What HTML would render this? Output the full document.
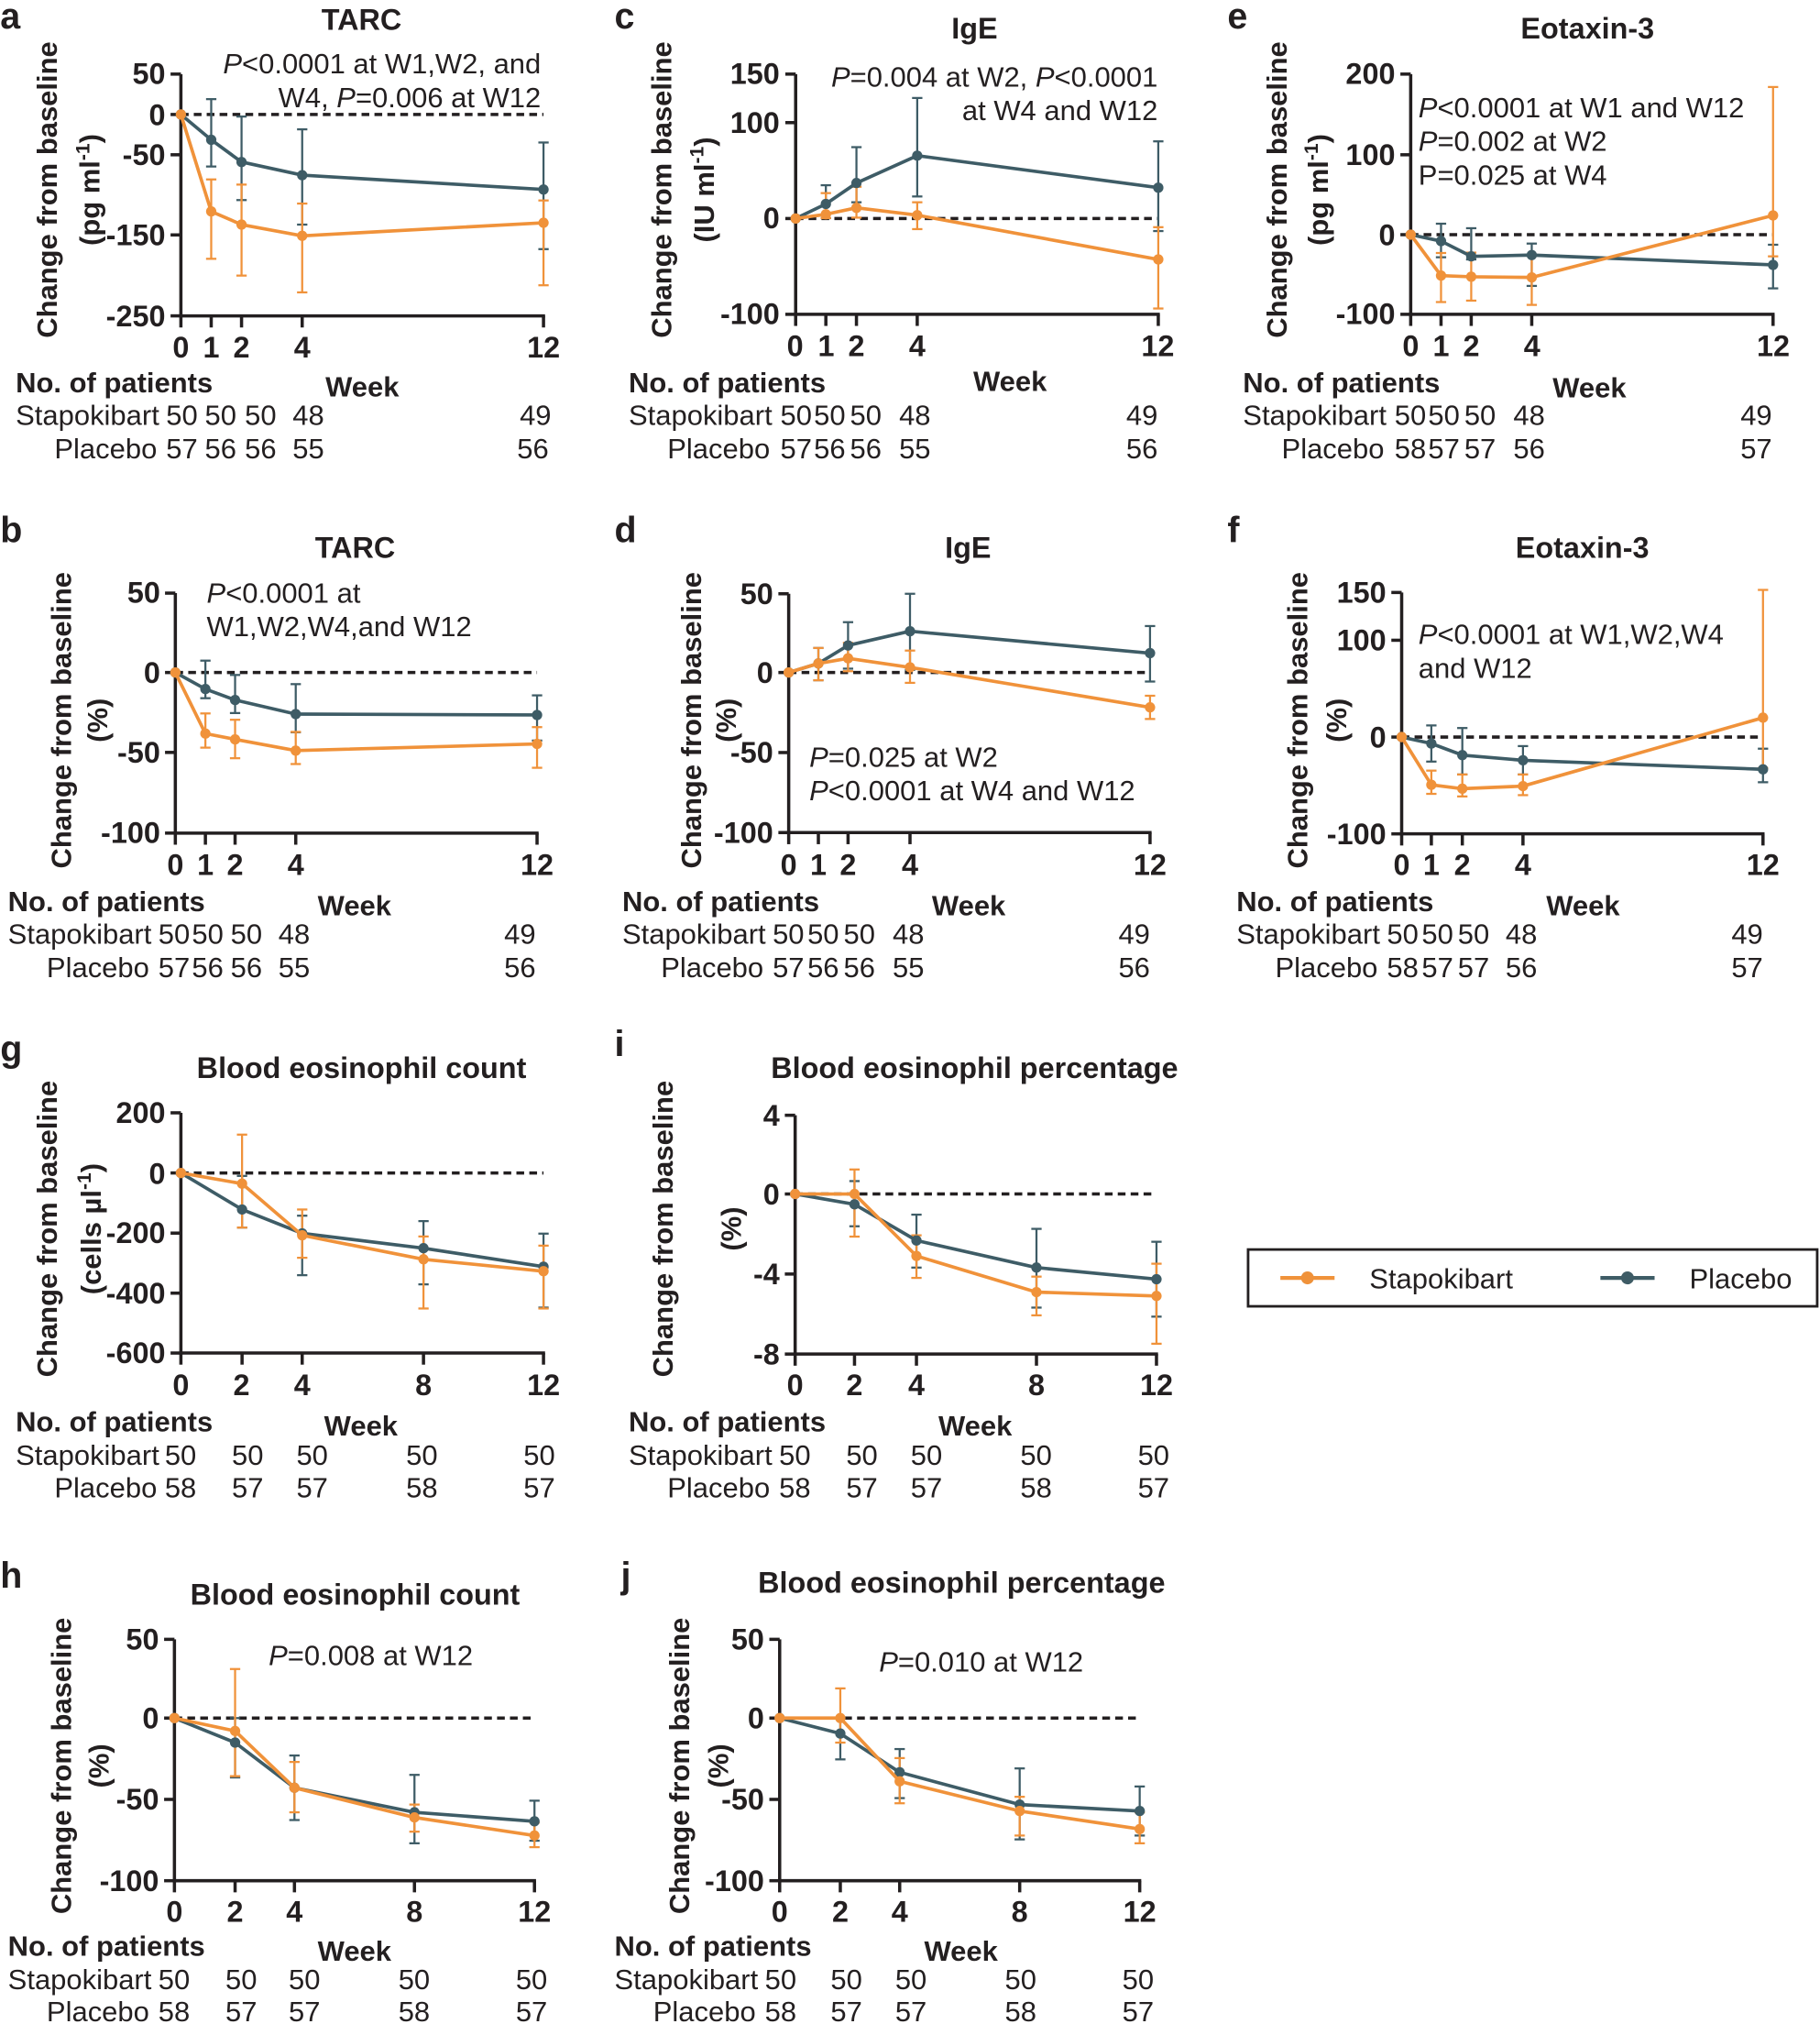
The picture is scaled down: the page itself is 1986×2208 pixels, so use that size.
<!DOCTYPE html>
<html><head><meta charset="utf-8">
<style>
html,body{margin:0;padding:0;background:#fff}
svg{display:block}
text{font-family:"Liberation Sans Narrow","Liberation Sans",Arial,sans-serif;fill:#231f20}
.b{font-weight:bold}
.t{font-size:23px;font-weight:bold}
.yl{font-size:22px;font-weight:bold}
.n{font-size:22px}
.L{font-size:28px;font-weight:bold}
.tk{font-size:23px;font-weight:bold}
.e{text-anchor:end}.m{text-anchor:middle}
</style></head>
<body>
<svg id="s" width="1986" height="2208" viewBox="0 0 1410 1568" xmlns="http://www.w3.org/2000/svg">
<g id="geo"></g>
<!-- panel letters -->
<text class="L" x="0" y="22">a</text><text class="L" x="476" y="22">c</text><text class="L" x="951" y="22">e</text>
<text class="L" x="0" y="420">b</text><text class="L" x="476" y="420">d</text><text class="L" x="951" y="420">f</text>
<text class="L" x="0" y="822">g</text><text class="L" x="476" y="818">i</text>
<text class="L" x="0" y="1230">h</text><text class="L" x="481" y="1230">j</text>
<!-- titles -->
<text class="t m" x="280" y="23">TARC</text><text class="t m" x="755" y="30">IgE</text><text class="t m" x="1230" y="30">Eotaxin-3</text>
<text class="t m" x="275" y="432">TARC</text><text class="t m" x="750" y="432">IgE</text><text class="t m" x="1226" y="432">Eotaxin-3</text>
<text class="t m" x="280" y="835">Blood eosinophil count</text><text class="t m" x="755" y="835">Blood eosinophil percentage</text>
<text class="t m" x="275" y="1243">Blood eosinophil count</text><text class="t m" x="745" y="1234">Blood eosinophil percentage</text>
<!-- y labels -->
<g class="yl m">
<text transform="translate(44,147) rotate(-90)">Change from baseline</text><text transform="translate(77,147) rotate(-90)">(pg ml<tspan dy="-8" font-size="15">-1</tspan><tspan dy="8">)</tspan></text>
<text transform="translate(520,147) rotate(-90)">Change from baseline</text><text transform="translate(553,147) rotate(-90)">(IU ml<tspan dy="-8" font-size="15">-1</tspan><tspan dy="8">)</tspan></text>
<text transform="translate(997,147) rotate(-90)">Change from baseline</text><text transform="translate(1029,147) rotate(-90)">(pg ml<tspan dy="-8" font-size="15">-1</tspan><tspan dy="8">)</tspan></text>
<text transform="translate(55,558) rotate(-90)">Change from baseline</text><text transform="translate(83,558) rotate(-90)">(%)</text>
<text transform="translate(543,558) rotate(-90)">Change from baseline</text><text transform="translate(570,558) rotate(-90)">(%)</text>
<text transform="translate(1013,558) rotate(-90)">Change from baseline</text><text transform="translate(1043,558) rotate(-90)">(%)</text>
<text transform="translate(44,952) rotate(-90)">Change from baseline</text><text transform="translate(78,952) rotate(-90)">(cells µl<tspan dy="-8" font-size="15">-1</tspan><tspan dy="8">)</tspan></text>
<text transform="translate(521,952) rotate(-90)">Change from baseline</text><text transform="translate(574,952) rotate(-90)">(%)</text>
<text transform="translate(55,1368) rotate(-90)">Change from baseline</text><text transform="translate(84,1368) rotate(-90)">(%)</text>
<text transform="translate(534,1368) rotate(-90)">Change from baseline</text><text transform="translate(564,1368) rotate(-90)">(%)</text>
</g>
<!-- y tick labels -->
<g class="tk e">
<text x="128" y="65">50</text><text x="128" y="97">0</text><text x="128" y="128">-50</text><text x="128" y="190">-150</text><text x="128" y="253">-250</text>
<text x="604" y="65">150</text><text x="604" y="103">100</text><text x="604" y="177">0</text><text x="604" y="251">-100</text>
<text x="1081" y="65">200</text><text x="1081" y="128">100</text><text x="1081" y="190">0</text><text x="1081" y="251">-100</text>
<text x="124" y="467">50</text><text x="124" y="529">0</text><text x="124" y="591">-50</text><text x="124" y="653">-100</text>
<text x="599" y="468">50</text><text x="599" y="529">0</text><text x="599" y="591">-50</text><text x="599" y="653">-100</text>
<text x="1074" y="467">150</text><text x="1074" y="504">100</text><text x="1074" y="579">0</text><text x="1074" y="654">-100</text>
<text x="128" y="870">200</text><text x="128" y="917">0</text><text x="128" y="963">-200</text><text x="128" y="1010">-400</text><text x="128" y="1056">-600</text>
<text x="604" y="872">4</text><text x="604" y="933">0</text><text x="604" y="995">-4</text><text x="604" y="1057">-8</text>
<text x="123" y="1278">50</text><text x="123" y="1339">0</text><text x="123" y="1402">-50</text><text x="123" y="1465">-100</text>
<text x="592" y="1278">50</text><text x="592" y="1339">0</text><text x="592" y="1402">-50</text><text x="592" y="1465">-100</text>
</g>
<!-- x tick labels -->
<g class="tk m">
<text x="140" y="277">0</text><text x="163.5" y="277">1</text><text x="187" y="277">2</text><text x="234" y="277">4</text><text x="421" y="277">12</text>
<text x="616" y="276">0</text><text x="640" y="276">1</text><text x="663.5" y="276">2</text><text x="710.6" y="276">4</text><text x="897" y="276">12</text>
<text x="1093" y="276">0</text><text x="1116.5" y="276">1</text><text x="1140" y="276">2</text><text x="1187" y="276">4</text><text x="1374" y="276">12</text>
<text x="135.7" y="678">0</text><text x="159" y="678">1</text><text x="182" y="678">2</text><text x="229" y="678">4</text><text x="416" y="678">12</text>
<text x="611" y="678">0</text><text x="634" y="678">1</text><text x="657" y="678">2</text><text x="705" y="678">4</text><text x="891" y="678">12</text>
<text x="1086" y="678">0</text><text x="1109" y="678">1</text><text x="1133" y="678">2</text><text x="1180" y="678">4</text><text x="1366" y="678">12</text>
<text x="140" y="1081">0</text><text x="187" y="1081">2</text><text x="234" y="1081">4</text><text x="328" y="1081">8</text><text x="421" y="1081">12</text>
<text x="616" y="1081">0</text><text x="662" y="1081">2</text><text x="710" y="1081">4</text><text x="803" y="1081">8</text><text x="896" y="1081">12</text>
<text x="135" y="1489">0</text><text x="182" y="1489">2</text><text x="228" y="1489">4</text><text x="321" y="1489">8</text><text x="414" y="1489">12</text>
<text x="604" y="1489">0</text><text x="651" y="1489">2</text><text x="697" y="1489">4</text><text x="790" y="1489">8</text><text x="883" y="1489">12</text>
</g>
<!-- annotations -->
<g class="n">
<text x="419" y="57" class="e"><tspan font-style="italic">P</tspan>&lt;0.0001 at W1,W2, and</text>
<text x="419" y="83" class="e">W4, <tspan font-style="italic">P</tspan>=0.006 at W12</text>
<text x="897" y="67" class="e"><tspan font-style="italic">P</tspan>=0.004 at W2, <tspan font-style="italic">P</tspan>&lt;0.0001</text>
<text x="897" y="93" class="e">at W4 and W12</text>
<text x="1099" y="91"><tspan font-style="italic">P</tspan>&lt;0.0001 at W1 and W12</text>
<text x="1099" y="117"><tspan font-style="italic">P</tspan>=0.002 at W2</text>
<text x="1099" y="143">P=0.025 at W4</text>
<text x="160" y="467"><tspan font-style="italic">P</tspan>&lt;0.0001 at</text>
<text x="160" y="493">W1,W2,W4,and W12</text>
<text x="627" y="594"><tspan font-style="italic">P</tspan>=0.025 at W2</text>
<text x="627" y="620"><tspan font-style="italic">P</tspan>&lt;0.0001 at W4 and W12</text>
<text x="1099" y="499"><tspan font-style="italic">P</tspan>&lt;0.0001 at W1,W2,W4</text>
<text x="1099" y="525">and W12</text>
<text x="208" y="1290"><tspan font-style="italic">P</tspan>=0.008 at W12</text>
<text x="681" y="1295"><tspan font-style="italic">P</tspan>=0.010 at W12</text>
</g>
<!-- patient tables -->
<g class="n">
<text class="b" x="12" y="304">No. of patients</text><text class="b" x="252" y="307">Week</text>
<text x="12" y="329">Stapokibart</text><text x="42" y="355">Placebo</text>
<g class="e"><text x="153" y="329">50</text><text x="183" y="329">50</text><text x="214" y="329">50</text><text x="251" y="329">48</text><text x="427" y="329">49</text>
<text x="153" y="355">57</text><text x="183" y="355">56</text><text x="214" y="355">56</text><text x="251" y="355">55</text><text x="425" y="355">56</text></g>

<text class="b" x="487" y="304">No. of patients</text><text class="b" x="754" y="303">Week</text>
<text x="487" y="329">Stapokibart</text><text x="517" y="355">Placebo</text>
<g class="e"><text x="629" y="329">50</text><text x="655" y="329">50</text><text x="683" y="329">50</text><text x="721" y="329">48</text><text x="897" y="329">49</text>
<text x="629" y="355">57</text><text x="655" y="355">56</text><text x="683" y="355">56</text><text x="721" y="355">55</text><text x="897" y="355">56</text></g>

<text class="b" x="963" y="304">No. of patients</text><text class="b" x="1203" y="308">Week</text>
<text x="963" y="329">Stapokibart</text><text x="993" y="355">Placebo</text>
<g class="e"><text x="1105" y="329">50</text><text x="1131" y="329">50</text><text x="1159" y="329">50</text><text x="1197" y="329">48</text><text x="1373" y="329">49</text>
<text x="1105" y="355">58</text><text x="1131" y="355">57</text><text x="1159" y="355">57</text><text x="1197" y="355">56</text><text x="1373" y="355">57</text></g>

<text class="b" x="6" y="706">No. of patients</text><text class="b" x="246" y="709">Week</text>
<text x="6" y="731">Stapokibart</text><text x="36" y="757">Placebo</text>
<g class="e"><text x="147" y="731">50</text><text x="173" y="731">50</text><text x="203" y="731">50</text><text x="240" y="731">48</text><text x="415" y="731">49</text>
<text x="147" y="757">57</text><text x="173" y="757">56</text><text x="203" y="757">56</text><text x="240" y="757">55</text><text x="415" y="757">56</text></g>

<text class="b" x="482" y="706">No. of patients</text><text class="b" x="722" y="709">Week</text>
<text x="482" y="731">Stapokibart</text><text x="512" y="757">Placebo</text>
<g class="e"><text x="623" y="731">50</text><text x="650" y="731">50</text><text x="678" y="731">50</text><text x="716" y="731">48</text><text x="891" y="731">49</text>
<text x="623" y="757">57</text><text x="650" y="757">56</text><text x="678" y="757">56</text><text x="716" y="757">55</text><text x="891" y="757">56</text></g>

<text class="b" x="958" y="706">No. of patients</text><text class="b" x="1198" y="709">Week</text>
<text x="958" y="731">Stapokibart</text><text x="988" y="757">Placebo</text>
<g class="e"><text x="1099" y="731">50</text><text x="1126" y="731">50</text><text x="1154" y="731">50</text><text x="1191" y="731">48</text><text x="1366" y="731">49</text>
<text x="1099" y="757">58</text><text x="1126" y="757">57</text><text x="1154" y="757">57</text><text x="1191" y="757">56</text><text x="1366" y="757">57</text></g>

<text class="b" x="12" y="1109">No. of patients</text><text class="b" x="251" y="1112">Week</text>
<text x="12" y="1135">Stapokibart</text><text x="42" y="1160">Placebo</text>
<g class="e"><text x="152" y="1135">50</text><text x="204" y="1135">50</text><text x="254" y="1135">50</text><text x="339" y="1135">50</text><text x="430" y="1135">50</text>
<text x="152" y="1160">58</text><text x="204" y="1160">57</text><text x="254" y="1160">57</text><text x="339" y="1160">58</text><text x="430" y="1160">57</text></g>

<text class="b" x="487" y="1109">No. of patients</text><text class="b" x="727" y="1112">Week</text>
<text x="487" y="1135">Stapokibart</text><text x="517" y="1160">Placebo</text>
<g class="e"><text x="628" y="1135">50</text><text x="680" y="1135">50</text><text x="730" y="1135">50</text><text x="815" y="1135">50</text><text x="906" y="1135">50</text>
<text x="628" y="1160">58</text><text x="680" y="1160">57</text><text x="730" y="1160">57</text><text x="815" y="1160">58</text><text x="906" y="1160">57</text></g>

<text class="b" x="6" y="1515">No. of patients</text><text class="b" x="246" y="1519">Week</text>
<text x="6" y="1541">Stapokibart</text><text x="36" y="1566">Placebo</text>
<g class="e"><text x="147" y="1541">50</text><text x="199" y="1541">50</text><text x="248" y="1541">50</text><text x="333" y="1541">50</text><text x="424" y="1541">50</text>
<text x="147" y="1566">58</text><text x="199" y="1566">57</text><text x="248" y="1566">57</text><text x="333" y="1566">58</text><text x="424" y="1566">57</text></g>

<text class="b" x="476" y="1515">No. of patients</text><text class="b" x="716" y="1519">Week</text>
<text x="476" y="1541">Stapokibart</text><text x="506" y="1566">Placebo</text>
<g class="e"><text x="617" y="1541">50</text><text x="668" y="1541">50</text><text x="718" y="1541">50</text><text x="803" y="1541">50</text><text x="894" y="1541">50</text>
<text x="617" y="1566">58</text><text x="668" y="1566">57</text><text x="718" y="1566">57</text><text x="803" y="1566">58</text><text x="894" y="1566">57</text></g>
</g>
<!-- legend -->
<rect x="967" y="968" width="441" height="44" fill="none" stroke="#231f20" stroke-width="2"/>
<line x1="992" y1="990" x2="1034" y2="990" stroke="#F0923A" stroke-width="3"/><circle cx="1013" cy="990" r="5" fill="#F0923A"/>
<text class="n" x="1061" y="998">Stapokibart</text>
<line x1="1240" y1="990" x2="1282" y2="990" stroke="#3E5C66" stroke-width="3"/><circle cx="1261" cy="990" r="5" fill="#3E5C66"/>
<text class="n" x="1309" y="998">Placebo</text>
</svg>
<script>
var O="#F0923A",G="#3E5C66",K="#231f20";
var P=[
{xs:[140,163.5,187,234,421],yt:[57.4,88.7,119.9,182,244.7],z:88.7,
 p:[[88.7],[108.3,76.8,129],[125.5,90.3,155],[135.7,100.2,174],[146.8,110.4,193]],
 s:[[88.7],[163.8,139,200.5],[174,143,213.5],[182.7,157.7,226.5],[172.6,155.3,221]]},
{xs:[616.4,639.8,663.5,710.6,897.4],yt:[57.4,95,169.3,243.5],z:169.3,
 p:[[169.3],[158,143.5,169],[141.8,114,156.7],[120.6,75.9,152.2],[145.4,109.5,179]],
 s:[[169.3],[166,149.6,169],[161,144.7,168.6],[166.7,156.7,177.5],[201,176,239]]},
{xs:[1093,1116.5,1139.9,1186.8,1373.8],yt:[57.4,119.9,181.8,243.5],z:181.8,
 p:[[181.8],[186.8,173.3,199.3],[198.6,176.8,201],[197.6,188.7,221.5],[205.2,189.6,223.4]],
 s:[[181.8],[213.5,196,234],[214.4,195.7,232.9],[214.9,197.2,236.2],[166.9,67.4,198.6]]},
{xs:[135.7,159,182,229,416],yt:[459.5,521,582.9,645.4],z:521,
 p:[[521],[533.8,511.8,540.9],[542.3,522.9,552.4],[553.2,530,567.3],[553.9,538.7,573.7]],
 s:[[521],[568.3,552.7,579.2],[572.8,557.6,587.4],[581.5,567,591.9],[576.3,563.3,594.8]]},
{xs:[611,634,657,705,891],yt:[460,521,583,645],z:521,
 p:[[521],[514,502,527],[500,482,518],[489,460,519],[506,485,528]],
 s:[[521],[514,502,527],[510,498,520],[517,504,529],[548,539,557]]},
{xs:[1086,1109,1133,1180,1366],yt:[459,496,571,646],z:571,
 p:[[571],[576,562,590],[585,564,600],[589,578,600],[596,580,606]],
 s:[[571],[608,597,615],[611,600,617],[609,600,616],[556,457,595]]},
{xs:[140,187.4,234,328,421],yt:[862.1,908.7,955.3,1001.8,1048.2],z:908.7,
 p:[[908.7],[937,911,951],[955.5,941.8,987.9],[967,946,995],[981.3,955.7,1013]],
 s:[[908.7],[917,879,951],[957,937,974.4],[975.6,957.9,1013.7],[984.8,965,1013.7]]},
{xs:[616,662,710,803,896],yt:[864,925,987,1049],z:925,
 p:[[925],[933,915,950],[961,941,982],[982,952,1013],[991,962,1020]],
 s:[[925],[925,906,958],[973,957,990],[1001,989,1019],[1004,979,1041]]},
{xs:[135,182,228,321,414],yt:[1270,1331,1394,1457],z:1331,
 p:[[1331],[1350,1331,1377],[1385,1360,1410],[1404,1375,1428],[1411,1395,1426]],
 s:[[1331],[1341,1293,1376],[1385,1365,1404],[1408,1398,1419],[1422,1412,1431]]},
{xs:[604,651,697,790,883],yt:[1270,1331,1394,1457],z:1331,
 p:[[1331],[1343,1331,1363],[1373,1355,1393],[1398,1370,1425],[1403,1384,1422]],
 s:[[1331],[1331,1308,1350],[1380,1362,1397],[1403,1392,1422],[1417,1404,1428]]}
];
var h="";
function L(x1,y1,x2,y2,c,w,extra){h+='<line x1="'+x1+'" y1="'+y1+'" x2="'+x2+'" y2="'+y2+'" stroke="'+c+'" stroke-width="'+w+'"'+(extra||'')+'/>';}
P.forEach(function(q){
 var x0=q.xs[0],x1=q.xs[q.xs.length-1],top=q.yt[0],bot=q.yt[q.yt.length-1];
 L(x0,top,x0,bot+1.2,K,2.5);
 q.yt.forEach(function(y){L(x0-8,y,x0,y,K,2.5);});
 L(x0-1.2,bot,x1+1.2,bot,K,2.5);
 q.xs.forEach(function(x){L(x,bot,x,bot+9,K,2.5);});
 L(x0,q.z,x1,q.z,K,2.5,' stroke-dasharray="6,4"');
 [[q.p,G],[q.s,O]].forEach(function(a){
  a[0].forEach(function(d,i){if(d.length>1){var x=q.xs[i];L(x,d[1],x,d[2],a[1],1.6);L(x-4,d[1],x+4,d[1],a[1],1.6);L(x-4,d[2],x+4,d[2],a[1],1.6);}});
 });
 [[q.p,G],[q.s,O]].forEach(function(a){
  var pts=a[0].map(function(d,i){return q.xs[i]+','+d[0];}).join(' ');
  h+='<polyline points="'+pts+'" fill="none" stroke="'+a[1]+'" stroke-width="2.6" stroke-linejoin="round"/>';
  a[0].forEach(function(d,i){h+='<circle cx="'+q.xs[i]+'" cy="'+d[0]+'" r="4" fill="'+a[1]+'"/>';});
 });
});
document.getElementById('geo').innerHTML=h;
</script>
</body></html>
